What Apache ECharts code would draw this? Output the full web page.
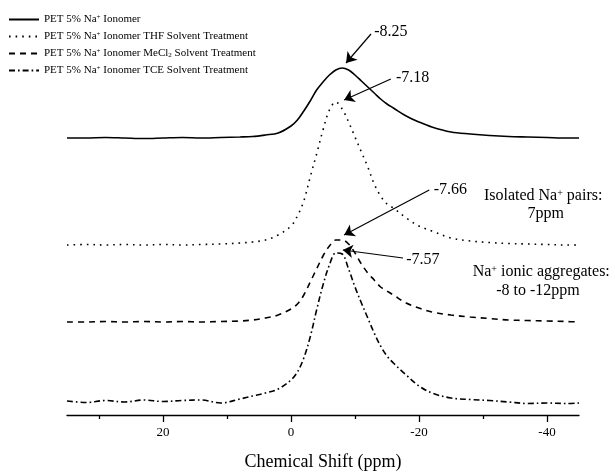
<!DOCTYPE html>
<html>
<head>
<meta charset="utf-8">
<script src="https://cdn.jsdelivr.net/npm/echarts@6/dist/echarts.min.js"></script>
<style>
html,body{margin:0;padding:0;background:#fff;}
#c{width:615px;height:472px;}
</style>
</head>
<body>
<div id="c"></div>
<script>
// ---- data ----
const seriesNames = [
  'PET 5% Na+ Ionomer',
  'PET 5% Na+ Ionomer THF Solvent Treatment',
  'PET 5% Na+ Ionomer MeCl2 Solvent Treatment',
  'PET 5% Na+ Ionomer TCE Solvent Treatment'
];
const ppm = [35, 32, 29, 26, 23, 20, 17, 14, 11, 8, 6, 4, 2, 0, -1, -2, -3, -4, -5, -6, -7, -8, -9, -10, -11, -12, -13, -14, -15, -16, -18, -20, -22, -25, -28, -31, -34, -37, -40, -43, -45];
const petIonomer = [0, 0, 0.5, 0, -0.5, 0, 0.5, 0, 0.5, 1, 1.5, 3, 5, 12, 18, 27, 37, 48, 56, 63, 68, 70, 68, 63, 57, 51, 45, 39, 34, 30, 22, 16, 11, 6, 4, 2.5, 1.5, 1, 0.5, 0, 0];
const thfTreated = [0, 0.5, 0, 0.5, 0, 0.5, 0, 0.5, 1, 2, 3, 5, 10, 19, 29, 44, 68, 91, 115, 135, 143, 136, 123, 108, 93, 78, 61, 49, 41, 37, 27, 19, 14, 7, 4, 2.5, 1.5, 1, 0.5, 0, 0];
const mecl2Treated = [0, 0, 0.5, 0, 0.5, 0, 0.5, 0, 0.5, 1, 2, 4, 7, 13, 18, 27, 40, 53, 66, 76, 82, 82, 78, 69, 58, 49, 42, 35, 31, 27, 19, 14, 10, 7, 5, 3.5, 2, 1.5, 1, 0.5, 0];
const tceTreated = [1, -0.5, 1.5, 0, 2, 0.5, 1.5, 2, -1, 3, 6, 9, 13, 22, 30, 44, 65, 92, 117, 137, 149, 148, 133, 115, 99, 84, 69, 56, 46, 39, 27, 16, 9, 4, 2.5, 1.5, 0, -1.5, -1, -1.5, -1];
const baselines = [277, 170, 93, 13];
const majorTicks = [20, 0, -20, -40];
const minorTicks = [30, 10, -10, -30];
const peakLabels = ['-8.25', '-7.18', '-7.66', '-7.57'];

// ---- annotation placement (data coordinates) ----
const arrows = [
  [[-12.5, 381], [-8.6, 352]],
  [[-15.6, 336], [-8.3, 315]],
  [[-21.6, 225], [-8.3, 180]],
  [[-17.5, 157], [-8.1, 165]]
];
const peakLabelPos = [[-13.0, 383], [-16.4, 337], [-22.3, 225], [-18.0, 155]];
const notes = [
  {text: '{t|Isolated Na}{s|+}{t| pairs:}', at: [-39.4, 219]},
  {text: '{t|7ppm}', at: [-39.8, 201]},
  {text: '{t|Na}{s|+}{t| ionic aggregates:}', at: [-39.1, 143]},
  {text: '{t|-8 to -12ppm}', at: [-38.6, 124]}
];

const valueSets = [petIonomer, thfTreated, mecl2Treated, tceTreated];
const dashes = ['solid', [1.6, 5], [6, 5], [6, 3, 1.6, 3]];
const serif = '"Liberation Serif", "Times New Roman", serif';

const chart = echarts.init(document.getElementById('c'), null, {renderer: 'canvas'});

const series = valueSets.map((vals, k) => ({
  name: seriesNames[k],
  type: 'line',
  xAxisIndex: 0,
  symbol: 'none',
  smooth: 0.35,
  animation: false,
  lineStyle: {color: '#000', width: 1.6, type: dashes[k]},
  itemStyle: {color: '#000'},
  emphasis: {disabled: true},
  data: ppm.map((x, i) => [x, baselines[k] + vals[i]])
}));

series[0].markLine = {
  silent: true,
  animation: false,
  symbol: ['none', 'arrow'],
  symbolSize: 10,
  label: {show: false},
  lineStyle: {color: '#000', width: 1.2, type: 'solid'},
  emphasis: {disabled: true},
  data: arrows.map(a => [{coord: a[0]}, {coord: a[1]}])
};

function legendFmt(name) {
  return '{t|' + name.replace('Na+', 'Na}{s|+}{t|').replace('MeCl2', 'MeCl}{b|2}{t|') + '}';
}

chart.setOption({
  backgroundColor: '#fff',
  animation: false,
  grid: {left: 67, right: 36, top: 15, bottom: 57, containLabel: false, outerBoundsMode: 'none'},
  legend: {
    orient: 'vertical',
    left: 3,
    top: 9,
    itemWidth: 30,
    itemHeight: 10,
    itemGap: 6,
    selectedMode: false,
    formatter: legendFmt,
    itemStyle: {opacity: 0},
    textStyle: {
      color: '#000',
      fontFamily: serif,
      fontSize: 11,
      rich: {
        t: {fontFamily: serif, fontSize: 11, color: '#000'},
        s: {fontFamily: serif, fontSize: 7, color: '#000', verticalAlign: 'top'},
        b: {fontFamily: serif, fontSize: 7, color: '#000', verticalAlign: 'bottom'}
      }
    },
    data: seriesNames
  },
  xAxis: [
    {
      type: 'value',
      inverse: true,
      min: -45,
      max: 35,
      position: 'bottom',
      name: 'Chemical Shift (ppm)',
      nameLocation: 'middle',
      nameGap: 38,
      nameTextStyle: {fontFamily: serif, fontSize: 18, color: '#000'},
      axisLine: {show: true, onZero: false, lineStyle: {color: '#000', width: 1.3}},
      axisTick: {show: true, length: 7, customValues: majorTicks, lineStyle: {color: '#000', width: 1.3}},
      axisLabel: {show: true, customValues: majorTicks, margin: 11, fontFamily: serif, fontSize: 13, color: '#000'},
      splitLine: {show: false}
    },
    {
      type: 'value',
      inverse: true,
      min: -45,
      max: 35,
      position: 'bottom',
      axisLine: {show: false, onZero: false},
      axisTick: {show: true, length: 4, customValues: minorTicks, lineStyle: {color: '#000', width: 1.3}},
      axisLabel: {show: false},
      splitLine: {show: false}
    }
  ],
  yAxis: {type: 'value', min: 0, max: 400, show: false, splitLine: {show: false}},
  series: series
});

// ---- text annotations placed through the axes ----
const graphics = [];
peakLabels.forEach((txt, i) => {
  const p = chart.convertToPixel({gridIndex: 0}, peakLabelPos[i]);
  graphics.push({
    type: 'text', x: p[0], y: p[1], silent: true,
    style: {text: txt, fontFamily: serif, fontSize: 16, fill: '#000', align: 'left', verticalAlign: 'middle'}
  });
});
notes.forEach(n => {
  const p = chart.convertToPixel({gridIndex: 0}, n.at);
  graphics.push({
    type: 'text', x: p[0], y: p[1], silent: true,
    style: {
      text: n.text, align: 'center', verticalAlign: 'middle', fill: '#000',
      fontFamily: serif, fontSize: 16,
      rich: {
        t: {fontFamily: serif, fontSize: 16, fill: '#000', color: '#000'},
        s: {fontFamily: serif, fontSize: 10, fill: '#000', color: '#000', verticalAlign: 'top'}
      }
    }
  });
});
chart.setOption({graphic: graphics});
</script>
</body>
</html>
